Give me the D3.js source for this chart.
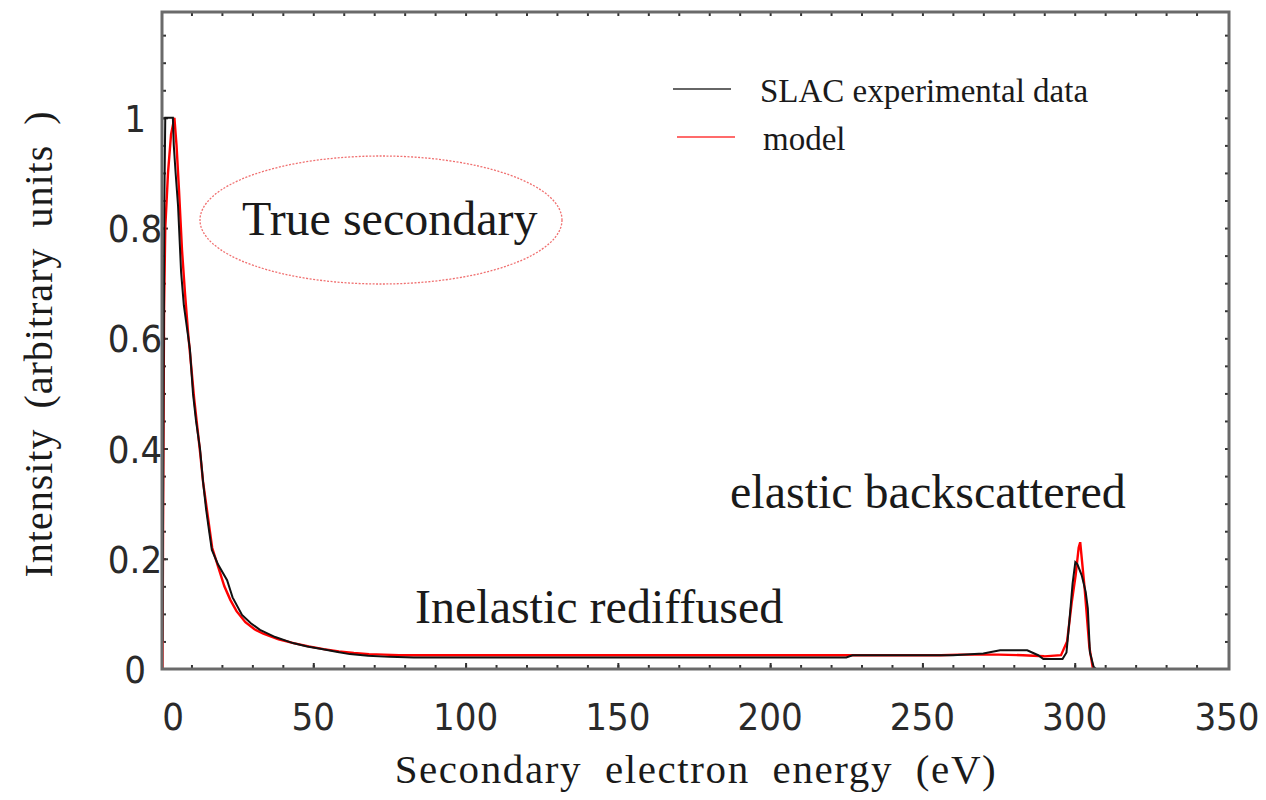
<!DOCTYPE html>
<html>
<head>
<meta charset="utf-8">
<script src="https://cdn.jsdelivr.net/npm/d3@7"></script>
<style>
  body { margin: 0; background: #fff; }
  svg { display: block; }
  .tick-label { font-family: "Liberation Sans Narrow", "DejaVu Sans Condensed", "Liberation Sans", sans-serif; fill: #2a2a2a; }
  .serif { font-family: "Liberation Serif", "DejaVu Serif", serif; fill: #1a1a1a; }
</style>
</head>
<body>
<div id="chart"></div>
<script>
// SLAC experimental data (black)
var slacEnergy = [0.5, 0.8, 1.1, 1.4, 3.9, 4.2, 4.8, 5.6, 6.6, 7.5, 8.5, 9.5, 10.5, 11.5, 12.8, 13.8, 14.8, 15.8, 16.7, 18.7, 21.7, 23.5, 26.6, 29.5, 32.5, 37.5, 43.3, 48, 53.2, 58, 62, 68, 75, 83, 100, 130, 160, 200, 225, 227, 240, 260, 270, 275.5, 284.4, 288, 289.7, 296, 297.3, 298.3, 299.3, 300.2, 300.9, 302.3, 303.6, 304.3, 305, 306.2, 307];
var slacIntensity = [0.05, 0.45, 0.85, 1.0, 1.0, 0.95, 0.9, 0.84, 0.72, 0.66, 0.62, 0.58, 0.5, 0.45, 0.4, 0.34, 0.29, 0.25, 0.216, 0.19, 0.161, 0.13, 0.098, 0.083, 0.071, 0.058, 0.047, 0.041, 0.036, 0.031, 0.027, 0.024, 0.022, 0.021, 0.021, 0.021, 0.021, 0.021, 0.021, 0.025, 0.025, 0.025, 0.028, 0.034, 0.034, 0.025, 0.018, 0.018, 0.03, 0.09, 0.155, 0.194, 0.19, 0.17, 0.14, 0.11, 0.03, 0.004, 0];

// model (red)
var modelEnergy = [0.5, 0.7, 1.0, 1.4, 2.3, 3.3, 4.4, 5.1, 5.9, 6.9, 7.9, 8.9, 9.9, 10.9, 11.9, 12.9, 13.8, 14.8, 15.8, 16.8, 18.8, 20.8, 22.8, 24.8, 27.7, 30.7, 33.6, 38.6, 43.5, 48.5, 53.4, 58.4, 63.3, 68.3, 73.2, 78.2, 100, 150, 200, 221, 224, 250, 256, 262, 275, 283, 290, 295.5, 297.5, 299, 300.3, 301.3, 301.8, 303.2, 304.8, 306];
var modelIntensity = [0.0, 0.3, 0.65, 0.8, 0.9, 0.97, 1.0, 0.95, 0.87, 0.76, 0.68, 0.61, 0.55, 0.49, 0.44, 0.39, 0.34, 0.3, 0.26, 0.22, 0.185, 0.15, 0.125, 0.105, 0.085, 0.072, 0.064, 0.054, 0.047, 0.041, 0.036, 0.032, 0.029, 0.027, 0.026, 0.025, 0.025, 0.025, 0.025, 0.025, 0.025, 0.025, 0.025, 0.026, 0.026, 0.025, 0.023, 0.025, 0.05, 0.12, 0.17, 0.22, 0.23, 0.15, 0.04, 0];

var xTickValues = [0, 50, 100, 150, 200, 250, 300, 350];
var yTickValues = [0, 0.2, 0.4, 0.6, 0.8, 1];
var yTickLabels = ["0", "0.2", "0.4", "0.6", "0.8", "1"];

var legendNames = ["SLAC experimental data", "model"];
var annotations = [
  {text: "True secondary", x: 242, y: 235},
  {text: "Inelastic rediffused", x: 415, y: 623},
  {text: "elastic backscattered", x: 730, y: 508}
];

var W = 1266, H = 800;
var plotL = 162, plotR = 1229, plotT = 12, plotB = 669;

var svg = d3.select("#chart").append("svg")
  .attr("width", W)
  .attr("height", H);

var x = d3.scaleLinear().domain([0, 350]).range([161, 1227]);
var y = d3.scaleLinear().domain([0, 1.192]).range([plotB, plotT]);

// ticks on all four sides, pointing inward
function ticks(axis, vals, size, transform) {
  var g = svg.append("g")
    .attr("transform", transform)
    .call(axis.tickValues(vals).tickSize(size).tickFormat(""));
  g.select(".domain").remove();
  g.selectAll("line").attr("stroke", "#333").attr("stroke-width", 2);
}
var xMinor = d3.range(10, 350, 10);
var yMinor = d3.range(0.05, 1.19, 0.05);
ticks(d3.axisBottom(x), xMinor, -4, "translate(0," + plotB + ")");
ticks(d3.axisBottom(x), xTickValues.slice(1, 7), -6, "translate(0," + plotB + ")");
ticks(d3.axisTop(x), xMinor, -4, "translate(0," + plotT + ")");
ticks(d3.axisLeft(y), yMinor, -4, "translate(" + plotL + ",0)");
ticks(d3.axisLeft(y), yTickValues.slice(1), -6, "translate(" + plotL + ",0)");
ticks(d3.axisRight(y), yMinor, -4, "translate(" + plotR + ",0)");

// tick labels ("0" sits a little right of the frame)
svg.append("g").selectAll("text")
  .data(xTickValues)
  .join("text")
  .attr("class", "tick-label")
  .attr("x", d => x(d) + (d === 0 ? 12 : 0))
  .attr("y", 730)
  .attr("text-anchor", "middle")
  .style("font-size", "38px")
  .text(d => d);

svg.append("g").selectAll("text")
  .data(yTickValues)
  .join("text")
  .attr("class", "tick-label")
  .attr("x", 135)
  .attr("y", d => y(d) + 14)
  .attr("text-anchor", "middle")
  .style("font-size", "38px")
  .text((d, i) => yTickLabels[i]);

// curves
var line = d3.line()
  .x(d => x(d[0]))
  .y(d => y(d[1]));

svg.append("path")
  .datum(d3.zip(modelEnergy, modelIntensity))
  .attr("d", line)
  .attr("fill", "none")
  .attr("stroke", "#ff0000")
  .attr("stroke-width", 2.4);

svg.append("path")
  .datum(d3.zip(slacEnergy, slacIntensity))
  .attr("d", line)
  .attr("fill", "none")
  .attr("stroke", "#111")
  .attr("stroke-width", 2);

// frame
svg.append("rect")
  .attr("x", plotL)
  .attr("y", plotT)
  .attr("width", plotR - plotL)
  .attr("height", plotB - plotT)
  .attr("fill", "none")
  .attr("stroke", "#6a6a6a")
  .attr("stroke-width", 3);

// legend
var legendColors = ["#666", "#ff6b6b"];
var legendY = [89, 137];
var legendX1 = [673, 677];
legendNames.forEach(function(name, i) {
  svg.append("line")
    .attr("x1", legendX1[i]).attr("x2", legendX1[i] + 58)
    .attr("y1", legendY[i]).attr("y2", legendY[i])
    .attr("stroke", legendColors[i])
    .attr("stroke-width", 2);
  svg.append("text")
    .attr("class", "serif")
    .attr("x", 760 + (i ? 3 : 0))
    .attr("y", legendY[i] + 13)
    .style("font-size", "33px")
    .text(name);
});

// annotations
svg.append("ellipse")
  .attr("cx", 381).attr("cy", 220)
  .attr("rx", 181).attr("ry", 64)
  .attr("fill", "none")
  .attr("stroke", "#f07070")
  .attr("stroke-width", 1.3)
  .attr("stroke-dasharray", "2,1.5");

svg.append("g").selectAll("text")
  .data(annotations)
  .join("text")
  .attr("class", "serif")
  .attr("x", d => d.x)
  .attr("y", d => d.y)
  .style("font-size", "48px")
  .text(d => d.text);

// axis titles
svg.append("text")
  .attr("class", "serif")
  .attr("x", 696)
  .attr("y", 783)
  .attr("text-anchor", "middle")
  .style("font-size", "41px")
  .style("letter-spacing", "1.6px")
  .style("word-spacing", "11px")
  .text("Secondary electron energy (eV)");

svg.append("text")
  .attr("class", "serif")
  .attr("transform", "translate(52,344) rotate(-90)")
  .attr("text-anchor", "middle")
  .style("font-size", "40px")
  .style("letter-spacing", "1px")
  .style("word-spacing", "9px")
  .text("Intensity (arbitrary units )");
</script>
</body>
</html>
